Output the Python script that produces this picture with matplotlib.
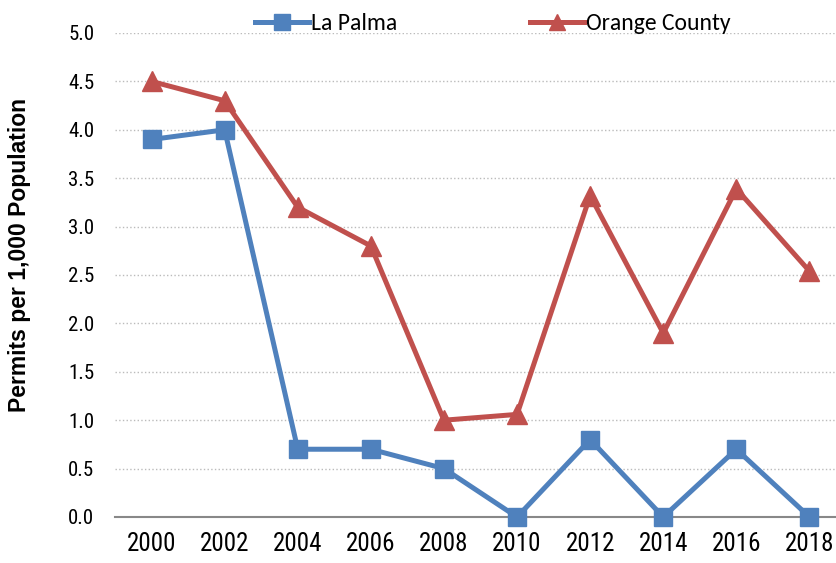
import matplotlib.pyplot as plt
from matplotlib import font_manager

# Excel chart: Arial Narrow for ticks, Calibri for legend, Arial bold for the axis title
names = {f.name for f in font_manager.fontManager.ttflist}


def first_font(cands, default):
    for c in cands:
        if c in names:
            return c
    return default


narrow = first_font(["Liberation Sans Narrow", "Arial Narrow", "Roboto Condensed", "Archivo Narrow"], "Liberation Sans")
calibri = first_font(["Carlito", "Calibri", "Lato"], "Liberation Sans")
plt.rcParams['font.family'] = [narrow, 'DejaVu Sans']

years = ["2000", "2002", "2004", "2006", "2008", "2010", "2012", "2014", "2016", "2018"]
la_palma = [3.9, 4.0, 0.7, 0.7, 0.5, 0.0, 0.8, 0.0, 0.7, 0.0]
orange_county = [4.5, 4.3, 3.2, 2.8, 1.0, 1.06, 3.32, 1.9, 3.39, 2.54]
yticks = [0.0, 0.5, 1.0, 1.5, 2.0, 2.5, 3.0, 3.5, 4.0, 4.5, 5.0]

blue = "#4F81BD"
red = "#C0504D"

fig = plt.figure(figsize=(8.36, 5.63), dpi=100)
ax = fig.add_axes([115 / 836, 46 / 563, 731 / 836, 484 / 563])

x = range(len(years))
ax.plot(x, la_palma, color=blue, lw=3.6, marker="s", ms=13, label="La Palma", clip_on=False, zorder=3)
ax.plot(x, orange_county, color=red, lw=3.6, marker="^", ms=14, label="Orange County", clip_on=False, zorder=3)

ax.set_xlim(-0.5, len(years) - 0.5)
ax.set_ylim(0, 5.0)
ax.set_yticks(yticks)
ax.set_yticklabels([f"{v:.1f}" for v in yticks], fontsize=15)
ax.set_xticks(list(x))
ax.set_xticklabels(years, fontsize=18)
ax.tick_params(length=0)
ax.tick_params(axis="y", pad=15)
ax.tick_params(axis="x", pad=11)

ax.grid(axis="y", color="#BBBBBB", ls=":", lw=1)
ax.set_axisbelow(True)
for s in ["top", "right", "left"]:
    ax.spines[s].set_visible(False)
ax.spines["bottom"].set_color("#888888")
ax.spines["bottom"].set_linewidth(1.5)

ax.set_ylabel("Permits per 1,000 Population", fontsize=16.5, fontweight="bold",
              family=["Liberation Sans", "DejaVu Sans"])
ax.yaxis.set_label_coords((31 - 115) / 731, (517 - 255) / 484)

ax.legend(loc="upper left", bbox_to_anchor=(238 / 836, 1.006), bbox_transform=fig.transFigure,
          ncol=2, frameon=False, prop={"family": calibri, "size": 17}, handlelength=2.3,
          handletextpad=0.1, columnspacing=5.6, markerscale=0.85, borderpad=0.2)

fig.savefig("out.png", dpi=100)
